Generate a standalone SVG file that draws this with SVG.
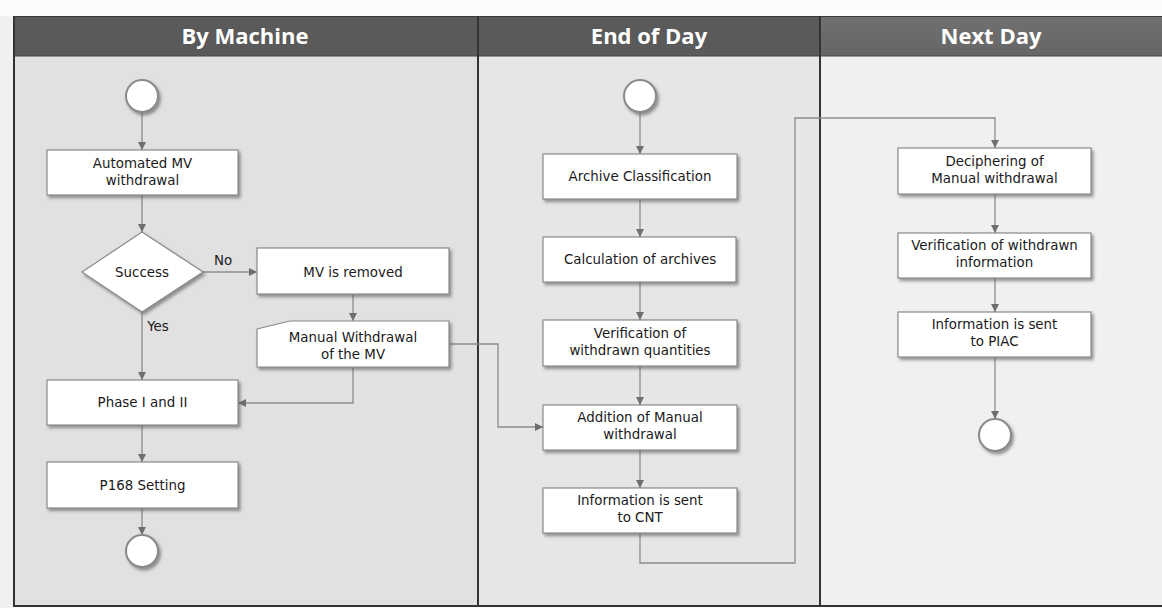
<svg xmlns="http://www.w3.org/2000/svg" width="1162" height="608" viewBox="0 0 1162 608">
<style>
  .hdr{fill:#ffffff;font-family:"Open Sans","Liberation Sans",sans-serif;font-weight:bold;font-size:22px;text-anchor:middle}
  .lbl{fill:#1a1a1a;font-family:"DejaVu Sans","Liberation Sans",sans-serif;font-size:13.4px;text-anchor:middle}
  .box{fill:#ffffff;stroke:#8a8a8a;stroke-width:1.2;filter:url(#sh)}
  .circ{fill:#ffffff;stroke:#8a8a8a;stroke-width:2;filter:url(#sh)}
  .con{fill:none;stroke:#8c8c8c;stroke-width:1.3}
  .arr{marker-end:url(#ah)}
  .div{stroke:#333333;stroke-width:2}
</style>
<defs>
  <filter id="sh" x="-20%" y="-20%" width="140%" height="150%">
    <feDropShadow dx="2" dy="2.5" stdDeviation="1.5" flood-color="#555555" flood-opacity="0.6"/>
  </filter>
  <marker id="ah" markerUnits="userSpaceOnUse" markerWidth="9" markerHeight="9" refX="8" refY="4" orient="auto">
    <path d="M0,0 L8,4 L0,8 z" fill="#6e6e6e"/>
  </marker>
  <linearGradient id="hg3" x1="0" y1="0" x2="0" y2="1">
    <stop offset="0" stop-color="#707070"/>
    <stop offset="1" stop-color="#666666"/>
  </linearGradient>
</defs>
<rect x="0" y="0" width="1162" height="608" fill="#fbfbfb"/>
<rect x="0" y="16" width="13" height="592" fill="#f0f0f0"/>
<g id="lanes">
  <rect x="13" y="56" width="465" height="550" fill="#e1e1e1"/>
  <rect x="478" y="56" width="342" height="550" fill="#e6e6e6"/>
  <rect x="820" y="56" width="342" height="550" fill="#f0f0f0"/>
  <rect x="13" y="16" width="465" height="40" fill="#5a5a5a"/>
  <rect x="478" y="16" width="342" height="40" fill="#5a5a5a"/>
  <rect x="820" y="16" width="342" height="40" fill="url(#hg3)"/>
  <line x1="13" y1="16.5" x2="1162" y2="16.5" stroke="#3a3a3a" stroke-width="1"/>
  <line x1="13" y1="56" x2="1162" y2="56" stroke="#444444" stroke-width="1.2"/>
  <line class="div" x1="14" y1="16" x2="14" y2="607"/>
  <line class="div" x1="478" y1="16" x2="478" y2="607"/>
  <line class="div" x1="820" y1="16" x2="820" y2="607"/>
  <line class="div" x1="13" y1="606" x2="1162" y2="606"/>
  <text class="hdr" x="245" y="44">By Machine</text>
  <text class="hdr" x="649" y="44">End of Day</text>
  <text class="hdr" x="991" y="44">Next Day</text>
</g>
<g id="connectors">
  <path class="con arr" d="M142,112 V150"/>
  <path class="con arr" d="M142,195 V232"/>
  <path class="con arr" d="M203,272 H257"/>
  <path class="con arr" d="M142,312 V380"/>
  <path class="con arr" d="M353,294 V321"/>
  <path class="con arr" d="M353,367 V403 H238"/>
  <path class="con arr" d="M142,425 V462"/>
  <path class="con arr" d="M142,508 V535"/>
  <path class="con arr" d="M449,344 H498 V427 H543"/>
  <path class="con arr" d="M640,112 V154"/>
  <path class="con arr" d="M640,199 V237"/>
  <path class="con arr" d="M640,282 V320"/>
  <path class="con arr" d="M640,366 V405"/>
  <path class="con arr" d="M640,450 V488"/>
  <path class="con arr" d="M640,533 V563 H795 V118 H995 V148"/>
  <path class="con arr" d="M995,194 V233"/>
  <path class="con arr" d="M995,278 V312"/>
  <path class="con arr" d="M995,357 V419"/>
  <text class="lbl" x="223" y="265">No</text>
  <text class="lbl" x="158" y="331">Yes</text>
</g>
<g id="start1"><circle class="circ" cx="142" cy="96" r="16"/></g>
<g id="automated">
  <rect class="box" x="47" y="150" width="191" height="45"/>
  <text class="lbl" x="142.5" y="168">Automated MV</text>
  <text class="lbl" x="142.5" y="185">withdrawal</text>
</g>
<g id="success">
  <path class="box" d="M142,232 L203,272 L142,312 L82,272 Z"/>
  <text class="lbl" x="142" y="277">Success</text>
</g>
<g id="mvremoved">
  <rect class="box" x="257" y="248" width="192" height="46"/>
  <text class="lbl" x="353" y="277">MV is removed</text>
</g>
<g id="manualwithdrawal">
  <path class="box" d="M257,329 L290,321 H449 V367 H257 Z"/>
  <text class="lbl" x="353" y="342">Manual Withdrawal</text>
  <text class="lbl" x="353" y="359">of the MV</text>
</g>
<g id="phase">
  <rect class="box" x="47" y="380" width="191" height="45"/>
  <text class="lbl" x="142.5" y="407">Phase I and II</text>
</g>
<g id="p168">
  <rect class="box" x="47" y="462" width="191" height="46"/>
  <text class="lbl" x="142.5" y="490">P168 Setting</text>
</g>
<g id="end1"><circle class="circ" cx="142" cy="551" r="16"/></g>
<g id="start2"><circle class="circ" cx="640" cy="96" r="16"/></g>
<g id="archive">
  <rect class="box" x="543" y="154" width="194" height="45"/>
  <text class="lbl" x="640" y="181">Archive Classification</text>
</g>
<g id="calculation">
  <rect class="box" x="543" y="237" width="193" height="45"/>
  <text class="lbl" x="640" y="264">Calculation of archives</text>
</g>
<g id="verifquantities">
  <rect class="box" x="543" y="320" width="194" height="46"/>
  <text class="lbl" x="640" y="338">Verification of</text>
  <text class="lbl" x="640" y="355">withdrawn quantities</text>
</g>
<g id="addition">
  <rect class="box" x="543" y="405" width="194" height="45"/>
  <text class="lbl" x="640" y="422">Addition of Manual</text>
  <text class="lbl" x="640" y="439">withdrawal</text>
</g>
<g id="cnt">
  <rect class="box" x="543" y="488" width="194" height="45"/>
  <text class="lbl" x="640" y="505">Information is sent</text>
  <text class="lbl" x="640" y="522">to CNT</text>
</g>
<g id="deciphering">
  <rect class="box" x="898" y="148" width="193" height="46"/>
  <text class="lbl" x="994.5" y="166">Deciphering of</text>
  <text class="lbl" x="994.5" y="183">Manual withdrawal</text>
</g>
<g id="verifinfo">
  <rect class="box" x="898" y="233" width="193" height="45"/>
  <text class="lbl" x="994.5" y="250">Verification of withdrawn</text>
  <text class="lbl" x="994.5" y="267">information</text>
</g>
<g id="piac">
  <rect class="box" x="898" y="312" width="193" height="45"/>
  <text class="lbl" x="994.5" y="329">Information is sent</text>
  <text class="lbl" x="994.5" y="346">to PIAC</text>
</g>
<g id="end3"><circle class="circ" cx="995" cy="435" r="16"/></g>
</svg>
